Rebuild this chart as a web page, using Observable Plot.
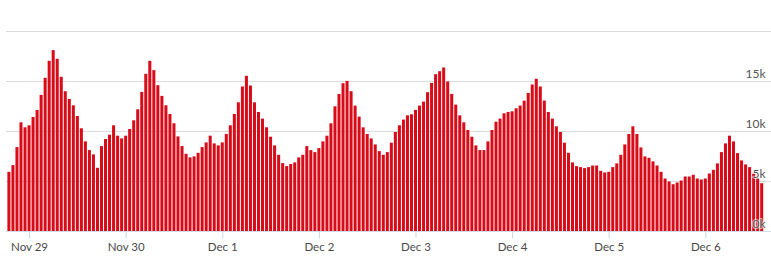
<!DOCTYPE html>
<html>
<head>
<meta charset="utf-8">
<script src="https://cdn.jsdelivr.net/npm/d3@7"></script>
<script src="https://cdn.jsdelivr.net/npm/@observablehq/plot@0.6"></script>
<style>
  html, body { margin: 0; padding: 0; background: #fff; }
  #chart svg { display: block; }
</style>
</head>
<body>
<div id="chart"></div>
<script>
// Hourly values, first bar = Nov 28 19:00
const startHour = "2023-11-28T19:00:00Z";
const visits = [
  5920, 6590, 8390, 10870, 10370, 10570, 11400, 12100, 13610, 15320, 17020, 18090,
  17220, 15420, 13980, 13210, 12570, 11500, 10270, 8960, 8090, 7660, 6320, 8490,
  9200, 9630, 10570, 9530, 9260, 9530, 10200, 11070, 12170, 13910, 15720, 17020,
  16090, 14580, 13510, 12570, 11700, 10770, 9460, 8490, 7720, 7360, 7460, 7820,
  8390, 8860, 9530, 8760, 8560, 8860, 9700, 10570, 11700, 12870, 14450, 15520,
  14550, 12870, 11900, 11240, 10370, 9430, 8560, 7620, 6790, 6490, 6690, 6860,
  7360, 7620, 8490, 8090, 7890, 8290, 8960, 9530, 10770, 12470, 13710, 14780,
  15010, 13980, 12540, 11440, 10370, 9700, 9260, 8660, 7990, 7620, 7890, 8830,
  9900, 10570, 11140, 11570, 11670, 12110, 12540, 12940, 13880, 14810, 15680, 15980,
  16350, 14950, 13710, 12640, 11570, 10870, 10100, 9430, 8560, 8090, 8090, 8960,
  10100, 10930, 11240, 11770, 11900, 11970, 12270, 12540, 13040, 13810, 14650, 15220,
  14450, 13040, 11900, 11240, 10470, 9900, 8830, 7820, 6860, 6490, 6390, 6290,
  6390, 6550, 6550, 6020, 5850, 5920, 6390, 6760, 7620, 8660, 9700, 10470,
  9700, 8360, 7460, 7320, 6960, 6550, 5920, 5250, 4950, 4680, 4850, 5050,
  5450, 5450, 5620, 5250, 5150, 5250, 5750, 6120, 6760, 7890, 8760, 9530,
  8960, 7790, 7060, 6660, 6390, 5720, 5250, 4780
];
const dayTicks = ["2023-11-29", "2023-11-30", "2023-12-01", "2023-12-02", "2023-12-03", "2023-12-04", "2023-12-05", "2023-12-06"];
const dayLabels = ["Nov 29", "Nov 30", "Dec 1", "Dec 2", "Dec 3", "Dec 4", "Dec 5", "Dec 6"];
const gridValues = [0, 5000, 10000, 15000, 20000];
const yTicks = [0, 5000, 10000, 15000];
const yLabels = ["0k", "5k", "10k", "15k"];

const HOUR = 3600 * 1000;
const t0 = new Date(startHour).getTime();
const data = visits.map((v, i) => ({ t: new Date(t0 + i * HOUR), v }));
const ticks = dayTicks.map(s => new Date(s + "T00:00:00Z"));
const labelOf = new Map(ticks.map((d, i) => [+d, dayLabels[i]]));
const yLabelOf = new Map(yTicks.map((v, i) => [v, yLabels[i]]));

const chart = Plot.plot({
  width: 771,
  height: 271,
  marginTop: 31,
  marginBottom: 40,
  marginLeft: 6,
  marginRight: 0,
  style: { fontFamily: "Lato, 'Open Sans', sans-serif", background: "#fff" },
  x: {
    type: "utc",
    domain: [new Date(t0 - HOUR / 2), new Date(t0 + (visits.length - 0.5) * HOUR)],
    range: [6.9, 763.7],
    axis: null
  },
  y: { domain: [0, 20000], axis: null },
  marks: [
    Plot.ruleY(gridValues.filter(v => v > 0), { stroke: "#dcdcdc", strokeWidth: 1 }),
    Plot.rectY(data, {
      x1: d => new Date(+d.t - HOUR / 2),
      x2: d => new Date(+d.t + HOUR / 2),
      y: "v",
      insetLeft: 0.5,
      insetRight: 0.5,
      fill: "#d80c18"
    }),
    Plot.ruleY([0], { stroke: "#d3dce6", strokeWidth: 1 }),
    Plot.axisX(ticks, {
      tickSize: 7,
      tickPadding: 4,
      stroke: "#c8d6e4",
      fill: "#4a4a4a",
      fontSize: 11.5,
      tickFormat: d => labelOf.get(+d)
    }),
    Plot.text(yTicks, {
      y: d => d,
      frameAnchor: "right",
      textAnchor: "end",
      dx: -6,
      dy: -7,
      text: d => yLabelOf.get(d),
      fill: "#555",
      stroke: "white",
      strokeOpacity: 0.6,
      strokeWidth: 2,
      fontSize: 12
    })
  ]
});
document.getElementById("chart").append(chart);
</script>
</body>
</html>
